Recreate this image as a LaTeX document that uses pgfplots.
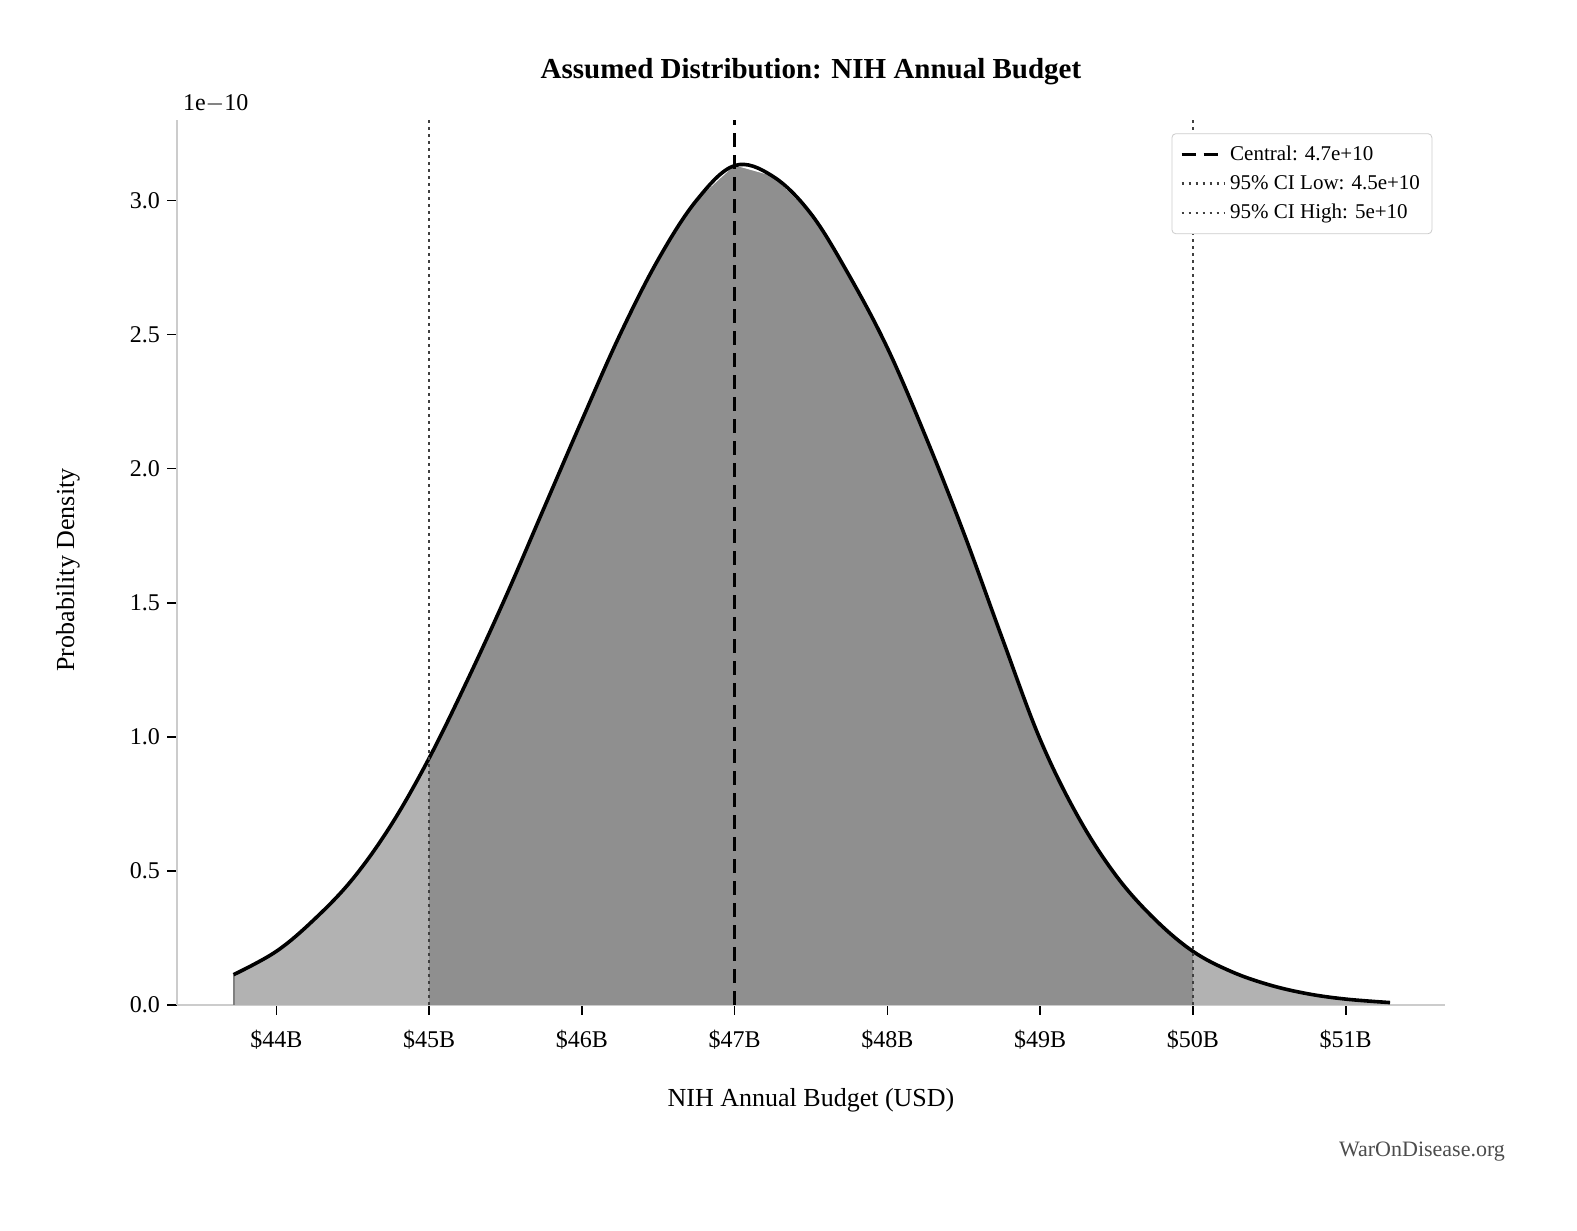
\documentclass[border=0pt]{standalone}
\usepackage{pgfplots}
\pgfplotsset{compat=1.18}
\usepackage{fontspec}
\setmainfont{Liberation Serif}
\begin{document}
\pgfplotstableread{
x y
43.72 0.113
44.0 0.20
44.25 0.32
44.5 0.47
44.75 0.67
45.0 0.92
45.25 1.21
45.5 1.52
45.75 1.85
46.0 2.18
46.25 2.50
46.5 2.78
46.75 3.00
47.0 3.13
47.25 3.09
47.5 2.95
47.75 2.72
48.0 2.45
48.25 2.12
48.5 1.76
48.75 1.37
49.0 0.99
49.25 0.70
49.5 0.48
49.75 0.32
50.0 0.20
50.25 0.125
50.5 0.075
50.75 0.042
51.0 0.022
51.29 0.009
}\dens
\begin{tikzpicture}
\path[use as bounding box] (0,0) rectangle (788.5pt,615pt);
\begin{axis}[
  at={(88.5pt,112.5pt)}, anchor=south west,
  width=634pt, height=442.5pt, scale only axis,
  xmin=43.35, xmax=51.65, ymin=0, ymax=3.3,
  axis lines*=left,
  axis line style={black!20, line width=0.8pt},
  tick style={black, line width=0.8pt},
  tick align=outside, major tick length=5pt,
  xtick={44,45,46,47,48,49,50,51},
  xticklabels={\$44B,\$45B,\$46B,\$47B,\$48B,\$49B,\$50B,\$51B},
  ytick={0,0.5,1,1.5,2,2.5,3},
  yticklabel style={/pgf/number format/.cd,fixed,fixed zerofill,precision=1},
  /pgf/number format/assume math mode=true,
  ticklabel style={font=\fontsize{12}{14}\selectfont},
  xticklabel style={yshift=-4pt},
  clip=false,
  legend style={at={(rel axis cs:0.99,0.985)}, anchor=north east,
    font=\fontsize{10.5}{13}\selectfont, draw=black!20, rounded corners=2pt,
    row sep=2pt, inner sep=4pt},
  legend cell align=left,
  legend image code/.code={\draw[#1] (0cm,0cm) -- (0.75cm,0cm);},
]
\addplot[fill=black!30, draw=none, forget plot] table[x=x,y=y]{\dens} \closedcycle;
\addplot[fill=black!44, draw=none, forget plot, restrict x to domain=45:50] table[x=x,y=y]{\dens} \closedcycle;
\addplot[black!50, line width=1pt, forget plot] coordinates {(43.72,0) (43.72,0.113)};
\addplot[black, line width=1.8pt, smooth, tension=0.6, forget plot] table[x=x,y=y]{\dens};
\addplot[black, line width=1.8pt, dash pattern=on 7pt off 4pt] coordinates {(47,0) (47,3.3)};
\addlegendentry{Central: 4.7e+10}
\addplot[black!75, line width=1.3pt, dash pattern=on 1.3pt off 2.2pt] coordinates {(45,0) (45,3.3)};
\addlegendentry{95\% CI Low: 4.5e+10}
\addplot[black!75, line width=1.3pt, dash pattern=on 1.3pt off 2.2pt] coordinates {(50,0) (50,3.3)};
\addlegendentry{95\% CI High: 5e+10}
\end{axis}
\node[anchor=south west, font=\fontsize{12}{14}\selectfont] at (88pt,555pt) {1e$-$10};
\node[font=\bfseries\fontsize{14.5}{18}\selectfont] at (405.5pt,579pt) {Assumed Distribution: NIH Annual Budget};
\node[font=\fontsize{13}{15}\selectfont] at (405.5pt,65pt) {NIH Annual Budget (USD)};
\node[font=\fontsize{13}{15}\selectfont, rotate=90] at (34pt,330pt) {Probability Density};
\node[font=\fontsize{11}{13}\selectfont, text=black!70, anchor=east] at (756pt,39pt) {WarOnDisease.org};
\end{tikzpicture}
\end{document}
